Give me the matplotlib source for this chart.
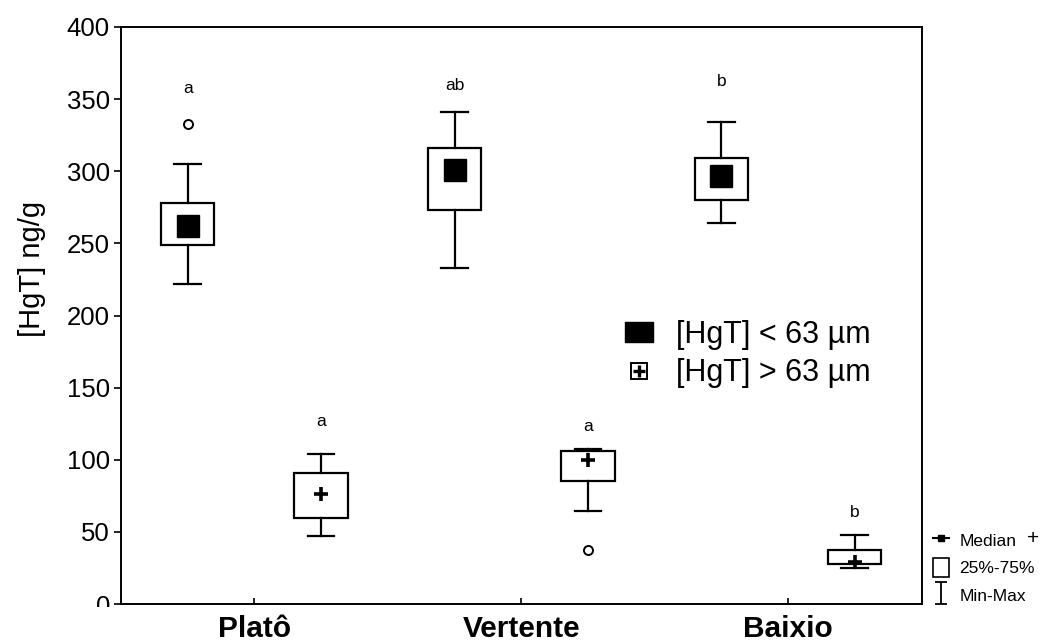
import numpy as np
import matplotlib
matplotlib.use('Agg')
import matplotlib.pyplot as plt
from matplotlib.lines import Line2D
from matplotlib.patches import Rectangle
from matplotlib.path import Path
from matplotlib.transforms import Bbox, TransformedBbox

plt.rcParams['font.family'] = ['Liberation Sans', 'DejaVu Sans']

# --- data ---
sites = ['Platô', 'Vertente', 'Baixio']

# [HgT] < 63 um
fine_min = [222, 233, 264]
fine_q1 = [249, 273, 280]
fine_med = [262, 301, 297]
fine_q3 = [278, 316, 309]
fine_max = [305, 341, 334]
fine_out = [[333], [], []]
fine_letters = ['a', 'ab', 'b']
fine_letter_y = [352, 354, 357]

# [HgT] > 63 um
coarse_min = [47, 64.5, 25]
coarse_q1 = [59.5, 85.5, 27.5]
coarse_med = [76.5, 100, 29]
coarse_q3 = [90.5, 106, 37.5]
coarse_max = [104, 107.5, 48]
coarse_out = [[], [37.5], []]
coarse_letters = ['a', 'a', 'b']
coarse_letter_y = [121, 118, 58]

W, H = 1050, 643
fig = plt.figure(figsize=(W / 100, H / 100), dpi=100)
ax = fig.add_axes([121 / W, 1 - 604 / H, (921.5 - 121) / W, (604 - 27) / H])

x = np.arange(1, len(sites) + 1)
off = 0.25


def stats(mins, q1, med, q3, maxs, outs):
    return [dict(whislo=a, q1=b, med=c, q3=d, whishi=e, fliers=f)
            for a, b, c, d, e, f in zip(mins, q1, med, q3, maxs, outs)]


common = dict(widths=0.2, showfliers=True, patch_artist=True,
              boxprops=dict(facecolor='white', edgecolor='black', linewidth=1.6),
              whiskerprops=dict(color='black', linewidth=1.6),
              capprops=dict(color='black', linewidth=1.6),
              capwidths=0.1,
              medianprops=dict(linestyle='none'),
              flierprops=dict(marker='o', markersize=6.5, markerfacecolor='white',
                              markeredgecolor='black', markeredgewidth=1.4))

ax.bxp(stats(fine_min, fine_q1, fine_med, fine_q3, fine_max, fine_out),
       positions=x - off, manage_ticks=False, **common)
ax.bxp(stats(coarse_min, coarse_q1, coarse_med, coarse_q3, coarse_max, coarse_out),
       positions=x + off, manage_ticks=False, **common)

ax.plot(x - off, fine_med, linestyle='none', marker='s', markersize=15.5,
        color='black', zorder=5)
ax.plot(x + off, coarse_med, linestyle='none', marker='+', markersize=10,
        markeredgewidth=2.6, color='black', zorder=5)

for xi, t, yy in zip(x - off, fine_letters, fine_letter_y):
    ax.text(xi, yy, t, ha='center', va='bottom', fontsize=12.5)
for xi, t, yy in zip(x + off, coarse_letters, coarse_letter_y):
    ax.text(xi, yy, t, ha='center', va='bottom', fontsize=12.5)

ax.set_xlim(0.5, 3.5)
ax.set_ylim(0, 400)
ax.set_yticks(np.arange(0, 401, 50))
ax.set_xticks(x)
ax.set_xticklabels(sites, fontsize=21.5, fontweight='bold')
ax.tick_params(axis='y', direction='out', length=5, width=1.2, labelsize=18.5, pad=3)
ax.tick_params(axis='x', direction='in', length=4, width=1.2, pad=8)
for s in ax.spines.values():
    s.set_linewidth(1.4)

ax.set_ylabel('[HgT] ng/g', fontsize=21)
ax.yaxis.set_label_coords(-0.094, 0.58)

# inner legend
rect = Path([(-1.35, -1), (1.35, -1), (1.35, 1), (-1.35, 1), (-1.35, -1)],
            [Path.MOVETO, Path.LINETO, Path.LINETO, Path.LINETO, Path.CLOSEPOLY])
fine_h = Line2D([], [], linestyle='none', marker=rect, markersize=19.5, color='black')
box_h = Line2D([], [], linestyle='none', marker='s', markersize=11,
               markerfacecolor='white', markeredgecolor='black', markeredgewidth=1.4)
plus_h = Line2D([], [], linestyle='none', marker='+', markersize=9,
                markeredgewidth=2.4, color='black')
ax.legend([fine_h, (box_h, plus_h)], ['[HgT] < 63 µm', '[HgT] > 63 µm'],
          loc='upper left', bbox_to_anchor=(0.59, 0.54), frameon=False,
          fontsize=22, handlelength=1.2, handletextpad=0.6, labelspacing=0.28)

# outer key
ibeam = Path([(-0.5, -1), (0.5, -1), (0, -1), (0, 1), (-0.5, 1), (0.5, 1)],
             [Path.MOVETO, Path.LINETO, Path.MOVETO, Path.LINETO, Path.MOVETO, Path.LINETO])
med_k = Line2D([], [], color='black', linewidth=1.5, marker='s', markersize=5)
box_k = Rectangle((0, 0), 1, 1, facecolor='white', edgecolor='black', linewidth=1.2)
mm_k = Line2D([], [], linestyle='none', marker=ibeam, markersize=16,
              markeredgewidth=1.3, color='black')
fig.legend([med_k, box_k, mm_k], ['Median', '25%-75%', 'Min-Max'],
           loc='lower left', bbox_to_anchor=(930 / W, 1 - 608 / H), frameon=False,
           fontsize=12.5, handlelength=0.9, handleheight=1.3, handletextpad=0.6,
           labelspacing=0.5, borderaxespad=0, borderpad=0.2)
fig.text(1027 / W, 1 - 539 / H, '+', fontsize=15, va='center', ha='left')

# bottom "0" label is cut off in the original
clip = TransformedBbox(Bbox([[0, 1 - 607 / H], [1, 1]]), fig.transFigure)
lab0 = ax.get_yticklabels()[0]
lab0.set_clip_on(True)
lab0.set_clip_box(clip)

fig.savefig('out.png', dpi=100, facecolor='white')
